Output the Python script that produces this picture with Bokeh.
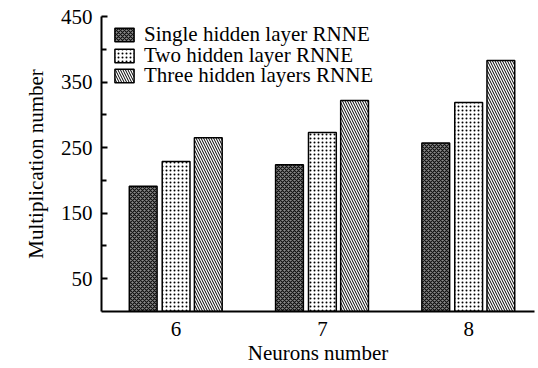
from bokeh.plotting import figure
from bokeh.models import FixedTicker, ColumnDataSource, Legend, LegendItem
from bokeh.transform import dodge
from bokeh.embed import file_html
from bokeh.resources import INLINE

neurons = [6, 7, 8]
series_names = ["Single hidden layer RNNE", "Two hidden layer RNNE", "Three hidden layers RNNE"]
single = [191, 224, 257]
two = [229, 273, 319]
three = [265, 322, 383]
y_ticks = [50, 150, 250, 350, 450]
y_minor = [100, 200, 300, 400]

FONT = "Liberation Serif"
FS = "21px"

p = figure(width=536, height=367, output_backend="svg", toolbar_location=None,
           x_range=(5.49, 8.45), y_range=(0, 450),
           min_border_left=101, min_border_top=16, min_border_bottom=52, min_border_right=2)
p.outline_line_color = None
p.xgrid.visible = False
p.ygrid.visible = False

src = ColumnDataSource(dict(x=neurons, single=single, two=two, three=three))

styles = [
    dict(field="single", off=-0.225, fill_color="#8a8a8a", hatch_pattern="diagonal_cross",
         hatch_color="#111111", hatch_scale=4, hatch_weight=1.2),
    dict(field="two", off=0.0, fill_color="white", hatch_pattern="dot",
         hatch_color="black", hatch_scale=4, hatch_weight=1.6),
    dict(field="three", off=0.22, fill_color="white", hatch_pattern="left_diagonal_line",
         hatch_color="black", hatch_scale=5, hatch_weight=1),
]
renderers = []
for s in styles:
    r = p.vbar(x=dodge("x", s["off"], range=p.x_range), top=s["field"], bottom=0, width=0.19,
               source=src, fill_color=s["fill_color"], hatch_pattern=s["hatch_pattern"],
               hatch_color=s["hatch_color"], hatch_scale=s["hatch_scale"],
               hatch_weight=s["hatch_weight"], line_color="black", line_width=1.5)
    renderers.append(r)

# one single-item legend per series, stacked tightly (screen px from frame bottom-left)
legend_pos = [(11, 264), (11, 243), (11, 223)]
for name, r, loc in zip(series_names, renderers, legend_pos):
    lg = Legend(items=[LegendItem(label=name, renderers=[r])], location=loc)
    lg.margin = 0
    lg.padding = 0
    lg.border_line_color = None
    lg.background_fill_alpha = 0
    lg.glyph_width = 24
    lg.glyph_height = 17
    lg.label_height = 17
    lg.spacing = 0
    lg.label_standoff = 8
    lg.label_text_font = FONT
    lg.label_text_font_size = FS
    lg.label_text_color = "black"
    p.add_layout(lg, "center")

# y axis
p.yaxis.ticker = FixedTicker(ticks=y_ticks, minor_ticks=y_minor)
p.yaxis.major_tick_in = 6
p.yaxis.major_tick_out = 0
p.yaxis.minor_tick_in = 5
p.yaxis.minor_tick_out = 0
p.yaxis.axis_line_width = 2
p.yaxis.axis_line_color = "black"
p.yaxis.major_tick_line_color = "black"
p.yaxis.minor_tick_line_color = "black"
p.yaxis.major_tick_line_width = 2
p.yaxis.minor_tick_line_width = 2
p.yaxis.major_label_text_font = FONT
p.yaxis.major_label_text_font_size = FS
p.yaxis.major_label_text_color = "black"
p.yaxis.major_label_standoff = 9
p.yaxis.axis_label = "Multiplication number"
p.yaxis.axis_label_text_font = FONT
p.yaxis.axis_label_text_font_size = FS
p.yaxis.axis_label_text_font_style = "normal"
p.yaxis.axis_label_text_color = "black"
p.yaxis.axis_label_standoff = 10

# x axis
p.xaxis.ticker = FixedTicker(ticks=neurons, minor_ticks=[])
p.xaxis.major_tick_in = 0
p.xaxis.major_tick_out = 0
p.xaxis.minor_tick_line_color = None
p.xaxis.axis_line_width = 2
p.xaxis.axis_line_color = "black"
p.xaxis.major_label_text_font = FONT
p.xaxis.major_label_text_font_size = FS
p.xaxis.major_label_text_color = "black"
p.xaxis.major_label_standoff = 10
p.xaxis.axis_label = "Neurons number"
p.xaxis.axis_label_text_font = FONT
p.xaxis.axis_label_text_font_size = FS
p.xaxis.axis_label_text_font_style = "normal"
p.xaxis.axis_label_text_color = "black"
p.xaxis.axis_label_standoff = 2

open("out.html", "w").write(file_html(p, INLINE))
